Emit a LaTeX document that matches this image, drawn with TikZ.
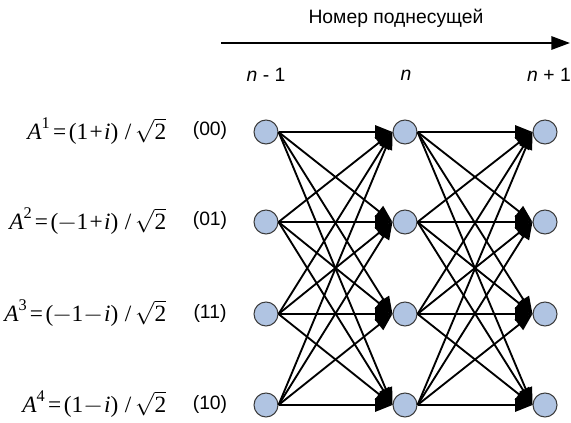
\documentclass[tikz,border=0pt]{standalone}
\usepackage{amsmath}
\usepackage{fontspec}
\usepackage{unicode-math}
\setmainfont{Liberation Serif}
\setmathfont{Latin Modern Math}
\setmathfont{Liberation Serif}[range={up/{Latin,latin,num},"28,"29,"2B,"3D,"2F,"2212}]
\setsansfont{Liberation Sans}
\usetikzlibrary{arrows.meta}
\definecolor{nodefill}{RGB}{176,196,226}
\definecolor{nodeline}{RGB}{60,60,60}
\newcommand{\vi}[1]{\textit{#1}}
\newcommand{\tb}[1]{\!#1\!}
\tikzset{
  pt/.style={circle,draw=nodeline,fill=nodefill,line width=0.8pt,minimum size=18pt,inner sep=0pt},
  link/.style={line width=1.4pt,-{Triangle[length=13pt,width=10pt]}},
  lab/.style={font=\sffamily\fontsize{14.5}{17}\selectfont},
  eq/.style={anchor=east,font=\fontsize{17.5}{20}\selectfont},
}
\begin{document}
\begin{tikzpicture}[x=0.75pt,y=-0.75pt]
\useasboundingbox (0,0) rectangle (571,423);
\node[lab] (title) at (396,18) {Номер поднесущей};
\coordinate (axs) at (221,43);
\coordinate (axe) at (570,43);
\draw[line width=1.5pt,-{Triangle[length=14pt,width=10pt]}] (axs) -- (axe);
\node[lab] (c1) at (266,75) {\textit{n} - 1};
\node[lab] (c2) at (406,75) {\textit{n}};
\node[lab] (c3) at (549,75) {\textit{n} + 1};
\foreach \r/\y in {1/132,2/222,3/314,4/405}{
  \node[pt] (a\r) at (266,\y) {};
  \node[pt] (b\r) at (405,\y) {};
  \node[pt] (c\r) at (545,\y) {};
}
\node[eq] (e1) at (171,131) {$\vi{A}^1\tb{=}(1\tb{+}\vi{i})\;/\,\sqrt{2}$};
\node[eq] (e2) at (171,221) {$\vi{A}^2\tb{=}(-1\tb{+}\vi{i})\;/\,\sqrt{2}$};
\node[eq] (e3) at (171,313) {$\vi{A}^3\tb{=}(-1\tb{-}\vi{i})\;/\,\sqrt{2}$};
\node[eq] (e4) at (171,404) {$\vi{A}^4\tb{=}(1\tb{-}\vi{i})\;/\,\sqrt{2}$};
\node[lab] (k1) at (210,131) {(00)};
\node[lab] (k2) at (210,221) {(01)};
\node[lab] (k3) at (210,313) {(11)};
\node[lab] (k4) at (210,404) {(10)};
\foreach \i in {1,...,4}{
  \foreach \j in {1,...,4}{
    \draw[link] (a\i.east) -- (b\j.west);
    \draw[link] (b\i.east) -- (c\j.west);
  }
}
\end{tikzpicture}
\end{document}
